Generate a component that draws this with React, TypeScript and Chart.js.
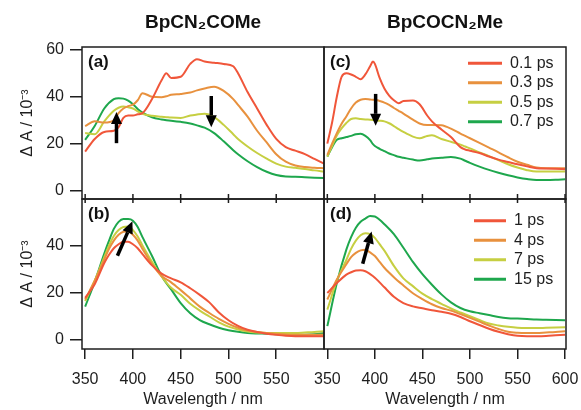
import React, { useEffect, useRef } from 'react';
import { Chart, registerables } from 'chart.js';

Chart.register(...registerables);

const FONT = '"Liberation Sans", Arial, Helvetica, sans-serif';
const INK = '#1e1e1e';
const seriesColors = ['#f0563a', '#e8913e', '#c6cf42', '#1ea74d'];

const namesTop = ['0.1 ps', '0.3 ps', '0.5 ps', '0.7 ps'];
const namesBottom = ['1 ps', '4 ps', '7 ps', '15 ps'];

const xTicksLeft = [350, 400, 450, 500, 550];
const xTicksRight = [350, 400, 450, 500, 550, 600];
const yTicksTop = [0, 20, 40, 60];
const yTicksBottom = [0, 20, 40];

// Panel (a) BpCN2COMe, early times
const waveA = [350, 360, 370, 380, 385, 390, 395, 400, 405, 410, 420, 430, 435, 440, 450, 460, 467, 475, 485, 495, 505, 510, 520, 530, 540, 550, 560, 570, 580, 590, 600];
const aT01 = [16.6, 22, 25, 25.5, 27, 31, 32, 32, 32.5, 33, 39, 47, 50, 48, 48.5, 54, 56, 55, 54.5, 54, 53, 50, 42, 35, 28, 22, 18.5, 17, 15.5, 13.5, 11.5];
const aT03 = [27.5, 29.5, 29, 30, 33, 35, 36, 36.6, 38.5, 41.5, 40, 39.8, 40.2, 40.8, 41.2, 41.8, 42.7, 43.5, 44.3, 42.5, 39, 36.5, 31.5, 25.5, 20.5, 15.5, 12.3, 10.7, 10, 9.7, 9.5];
const aT05 = [24.5, 24, 29.5, 34, 35.3, 35.8, 35.5, 35, 33.8, 32.7, 31.9, 31.5, 31.3, 31.1, 30.9, 32, 32.4, 32.7, 31.3, 28, 24, 22, 18.8, 16, 13.6, 11.5, 10.2, 9.7, 9.2, 8.6, 8.1];
const aT07 = [21.6, 27.5, 35, 39, 39.4, 39.2, 38.3, 36.8, 34.8, 33.2, 31.2, 30.3, 30, 29.8, 29.3, 28.6, 27.8, 26.8, 24.5, 21, 17.2, 15.5, 12.5, 10, 8, 6.6, 6, 5.9, 5.7, 5.5, 5.3];

// Panel (c) BpCOCN2Me, early times
const waveC = [350, 355, 360, 365, 370, 375, 380, 385, 390, 395, 398, 400, 405, 410, 415, 420, 425, 430, 440, 447, 455, 460, 470, 480, 490, 495, 500, 510, 520, 530, 540, 550, 560, 570, 580, 590, 600];
const cT01 = [20, 29, 40, 48.5, 50, 49.5, 48.5, 47.5, 49.5, 53, 55, 54, 48, 43.5, 40.5, 38.5, 37.2, 38.2, 38.4, 36.8, 32, 29.5, 26, 22.8, 18.5, 17.5, 17, 16, 14.5, 13.2, 12.2, 11.2, 10.3, 9.5, 9.4, 9.3, 9.1];
const cT03 = [15.2, 20, 24.5, 28.5, 31.6, 35, 37.5, 38.7, 39, 38.8, 38.7, 38.7, 38.2, 37.5, 36.5, 35.2, 34, 32.8, 30.2, 28.6, 27.9, 28, 27.8, 26.4, 24.3, 23.3, 22.3, 20.3, 18.3, 16.3, 14.2, 12.3, 11, 9.8, 9.5, 9.5, 9.5];
const cT05 = [14.5, 19, 23.5, 26.5, 28.8, 30.5, 30.8, 30.5, 30.3, 30.2, 30.1, 30, 29.8, 29.5, 28.7, 27.5, 26.2, 25, 23, 22.3, 23.3, 23.6, 22, 20.8, 19.6, 18.8, 18, 16.3, 14.7, 13, 11.2, 9.8, 8.7, 8.1, 8.1, 8.1, 8.1];
const cT07 = [14.5, 18.5, 21.6, 22.3, 22.8, 23.3, 24, 24.2, 23.3, 21.5, 19.8, 19, 17.8, 16.8, 15.8, 15.1, 14.4, 14, 13.2, 12.8, 13.3, 13.7, 14, 14.3, 13.6, 12.7, 11.8, 10.2, 8.8, 7.6, 6.5, 5.6, 4.9, 4.5, 4.5, 4.6, 4.8];

// Panel (b) BpCN2COMe, later times
const waveB = [350, 360, 370, 375, 380, 385, 390, 395, 400, 405, 410, 420, 430, 440, 450, 460, 470, 480, 490, 500, 510, 520, 530, 540, 550, 560, 570, 580, 590, 600];
const bT1 = [17.7, 23.5, 32.5, 36, 38.8, 40.5, 41.5, 41.5, 40.5, 38.8, 36.3, 31.5, 28, 26, 24.3, 21.8, 19, 15.8, 11.5, 8.2, 5.8, 4.2, 3.2, 2.5, 2, 1.6, 1.4, 1.4, 1.4, 1.4];
const bT4 = [17, 25, 34, 38.5, 42, 44.5, 45.8, 46, 44.5, 42, 38.5, 32, 27, 24.3, 21, 17.5, 14, 11.3, 8.8, 6.7, 5, 3.8, 3.2, 2.8, 2.5, 2.2, 2.1, 2.1, 2.1, 2.1];
const bT7 = [16.3, 25, 35, 40, 44, 46.5, 47.8, 48, 46.5, 43.8, 40, 33, 26.8, 22, 19, 15.2, 12.3, 9.8, 7.3, 5.5, 4.3, 3.4, 3, 2.8, 2.8, 2.8, 2.8, 3, 3.2, 3.5];
const bT15 = [14, 24.5, 36.5, 42, 47, 50, 51.2, 51.2, 50.5, 47.8, 43.5, 35.5, 27, 21.3, 15.5, 11.2, 8.3, 6.5, 5, 4, 3.3, 2.8, 2.6, 2.5, 2.3, 2.1, 2.1, 2.1, 2.3, 2.8];

// Panel (d) BpCOCN2Me, later times
const waveD = [350, 360, 370, 375, 380, 385, 390, 395, 400, 405, 410, 420, 430, 440, 450, 460, 470, 480, 490, 500, 510, 520, 530, 540, 550, 560, 570, 580, 590, 600];
const dT1 = [19.8, 24, 27.6, 28.6, 29.3, 29.4, 29, 27.8, 26.3, 24.3, 22.2, 18.2, 15.5, 14.1, 13.3, 12.5, 11.8, 11, 9.6, 7.8, 6.2, 4.6, 3.3, 2.3, 1.6, 1.4, 1.4, 1.5, 1.8, 2.1];
const dT4 = [17, 25.5, 32, 35, 36.8, 37.9, 38.2, 37, 35.5, 33, 30.5, 26.5, 23, 19.7, 17.2, 15, 13.4, 12.3, 10.8, 9.2, 7.6, 6, 4.5, 3.3, 2.9, 2.8, 2.8, 3, 3.2, 3.5];
const dT7 = [12.7, 25, 33.8, 38.5, 42, 44.3, 45.2, 44.8, 43.2, 40.5, 37.8, 31.3, 26, 22.7, 19.5, 17.2, 15.2, 13.2, 11.5, 9.9, 8.3, 6.8, 6, 5.4, 5, 4.9, 4.9, 5, 5.1, 5.2];
const dT15 = [5.7, 24, 38.2, 43.5, 47.5, 50, 51.4, 52.5, 52.3, 50.9, 49, 44.8, 39, 33, 27.8, 23.3, 19.2, 15.8, 13.4, 12, 11.2, 10.4, 9.6, 9.1, 8.9, 8.7, 8.5, 8.4, 8.3, 8.2];

// Arrows: [x from, y from, x to (tip), y to (tip)] in data units
const arrowsA = [[382.8, 20.2, 382.8, 33.5], [482, 40.3, 482, 27]];
const arrowsB = [[383.8, 35.6, 399.5, 50.2]];
const arrowsC = [[400.8, 41.2, 400.8, 27.6]];
const arrowsD = [[387.2, 32.2, 396.6, 45.9]];

function drawArrow(ctx: CanvasRenderingContext2D, x1: number, y1: number, x2: number, y2: number) {
  const ang = Math.atan2(y2 - y1, x2 - x1);
  const headLen = 12;
  const headW = 5.5;
  const bx = x2 - headLen * Math.cos(ang);
  const by = y2 - headLen * Math.sin(ang);
  ctx.save();
  ctx.strokeStyle = '#000';
  ctx.fillStyle = '#000';
  ctx.lineWidth = 3.5;
  ctx.beginPath();
  ctx.moveTo(x1, y1);
  ctx.lineTo(bx, by);
  ctx.stroke();
  ctx.beginPath();
  ctx.moveTo(x2, y2);
  ctx.lineTo(bx + headW * Math.sin(ang), by - headW * Math.cos(ang));
  ctx.lineTo(bx - headW * Math.sin(ang), by + headW * Math.cos(ang));
  ctx.closePath();
  ctx.fill();
  ctx.restore();
}

const panelDecor = {
  id: 'panelDecor',
  afterLayout(chart: any, _a: any, o: any) {
    if (o.legendAt && chart.legend) {
      const pad = 3.5;
      const half = 8;
      chart.legend.left = o.legendAt[0] - o.offset[0] - pad;
      chart.legend.top = o.legendAt[1] - o.offset[1] - pad - half;
    }
  },
  afterDatasetsDraw(chart: any, _a: any, o: any) {
    const { ctx, scales } = chart;
    (o.arrows || []).forEach((a: number[]) => {
      drawArrow(
        ctx,
        scales.x.getPixelForValue(a[0]),
        scales.y.getPixelForValue(a[1]),
        scales.x.getPixelForValue(a[2]),
        scales.y.getPixelForValue(a[3])
      );
    });
  },
  afterDraw(chart: any, _a: any, o: any) {
    const { ctx, chartArea: ca, scales } = chart;
    ctx.save();
    ctx.strokeStyle = INK;
    ctx.lineWidth = 1.5;
    ctx.strokeRect(ca.left, ca.top, ca.right - ca.left, ca.bottom - ca.top);
    if (o.cross) {
      ctx.beginPath();
      scales.x.ticks.forEach((t: any) => {
        const px = scales.x.getPixelForValue(t.value);
        ctx.moveTo(px, ca.bottom - 5);
        ctx.lineTo(px, ca.bottom + 4);
      });
      ctx.stroke();
    }
    ctx.fillStyle = '#111';
    ctx.font = `bold 17px ${FONT}`;
    ctx.textBaseline = 'middle';
    ctx.textAlign = 'left';
    ctx.fillText(o.label, ca.left + 6, ca.top + 15);
    ctx.restore();
  },
};

type Spec = {
  id: string; left: number; top: number; width: number; height: number;
  padding: any; title?: string; label: string;
  wave: number[]; series: number[][]; names: string[];
  xMin: number; xMax: number; xTicks: number[]; bottomAxis: boolean; xAxisH: number;
  yMin: number; yMax: number; yTicks: number[]; yAxis: boolean;
  legendAt: number[] | null; legendBox: number; arrows: number[][]; cross: boolean;
};

const panels: Spec[] = [
  {
    id: 'a', left: 0, top: 0, width: 332, height: 216,
    padding: { top: 0, right: 8, bottom: 0, left: 0 }, title: 'BpCN₂COMe', label: '(a)',
    wave: waveA, series: [aT01, aT03, aT05, aT07], names: namesTop,
    xMin: 346.7, xMax: 600, xTicks: xTicksLeft, bottomAxis: false, xAxisH: 17,
    yMin: -3.6, yMax: 61.2, yTicks: yTicksTop, yAxis: true,
    legendAt: null, legendBox: 34, arrows: arrowsA, cross: true,
  },
  {
    id: 'c', left: 300, top: 0, width: 290, height: 216,
    padding: { top: 0, right: 24, bottom: 0, left: 24 }, title: 'BpCOCN₂Me', label: '(c)',
    wave: waveC, series: [cT01, cT03, cT05, cT07], names: namesTop,
    xMin: 346.5, xMax: 601, xTicks: xTicksRight, bottomAxis: false, xAxisH: 17,
    yMin: -3.6, yMax: 61.2, yTicks: yTicksTop, yAxis: false,
    legendAt: [468, 63.3], legendBox: 34, arrows: arrowsC, cross: true,
  },
  {
    id: 'b', left: 0, top: 183, width: 332, height: 227,
    padding: { top: 16, right: 8, bottom: 0, left: 0 }, label: '(b)',
    wave: waveB, series: [bT1, bT4, bT7, bT15], names: namesBottom,
    xMin: 346.7, xMax: 600, xTicks: xTicksLeft, bottomAxis: true, xAxisH: 61,
    yMin: -4, yMax: 59.7, yTicks: yTicksBottom, yAxis: true,
    legendAt: null, legendBox: 32, arrows: arrowsB, cross: false,
  },
  {
    id: 'd', left: 300, top: 183, width: 290, height: 227,
    padding: { top: 16, right: 24, bottom: 0, left: 24 }, label: '(d)',
    wave: waveD, series: [dT1, dT4, dT7, dT15], names: namesBottom,
    xMin: 346.5, xMax: 601, xTicks: xTicksRight, bottomAxis: true, xAxisH: 61,
    yMin: -4, yMax: 59.7, yTicks: yTicksBottom, yAxis: false,
    legendAt: [474, 220.7], legendBox: 32, arrows: arrowsD, cross: false,
  },
];

function makeConfig(s: Spec): any {
  return {
    type: 'line',
    data: {
      datasets: s.series.map((vals, i) => ({
        label: s.names[i],
        data: s.wave.map((x, j) => ({ x, y: vals[j] })),
        borderColor: seriesColors[i],
        backgroundColor: seriesColors[i],
        borderWidth: 2,
        pointRadius: 0,
        pointHoverRadius: 0,
        fill: false,
        cubicInterpolationMode: 'monotone',
      })),
    },
    options: {
      animation: false,
      responsive: false,
      maintainAspectRatio: false,
      devicePixelRatio: 1,
      events: [],
      layout: { padding: s.padding },
      scales: {
        x: {
          type: 'linear',
          min: s.xMin,
          max: s.xMax,
          afterBuildTicks: (sc: any) => { sc.ticks = s.xTicks.map((v) => ({ value: v })); },
          afterFit: (sc: any) => { sc.height = s.xAxisH; },
          border: { display: false },
          grid: { display: s.bottomAxis, drawOnChartArea: false, drawTicks: true, tickLength: 10, color: INK, lineWidth: 1.5 },
          ticks: { display: s.bottomAxis, padding: 11, color: INK, font: { family: FONT, size: 16 }, maxRotation: 0, autoSkip: false },
          title: { display: s.bottomAxis, text: 'Wavelength / nm', color: INK, font: { family: FONT, size: 16 }, padding: { top: 0, bottom: 1 } },
        },
        y: {
          type: 'linear',
          display: s.yAxis,
          min: s.yMin,
          max: s.yMax,
          afterBuildTicks: (sc: any) => { sc.ticks = s.yTicks.map((v) => ({ value: v })); },
          afterFit: (sc: any) => { sc.width = s.yAxis ? 82 : 0; },
          border: { display: false },
          grid: { drawOnChartArea: false, drawTicks: true, tickLength: 12, color: INK, lineWidth: 1.5 },
          ticks: { padding: 6, color: INK, font: { family: FONT, size: 16 } },
          title: { display: true, text: 'Δ A / 10⁻³', color: INK, font: { family: FONT, size: 16 }, padding: { top: 18, bottom: 0 } },
        },
      },
      plugins: {
        tooltip: { enabled: false },
        title: s.title
          ? { display: true, text: s.title, fullSize: false, color: '#111', font: { family: FONT, size: 19, weight: 'bold', lineHeight: 1 }, padding: { top: 13, bottom: 15 } }
          : { display: false },
        legend: s.legendAt
          ? {
              display: true,
              position: 'chartArea',
              align: 'start',
              labels: {
                usePointStyle: true,
                pointStyle: 'line',
                pointStyleWidth: s.legendBox,
                padding: 3.5,
                color: INK,
                font: { family: FONT, size: 16 },
                generateLabels: (ch: any) =>
                  (Chart.defaults.plugins.legend.labels as any).generateLabels(ch).map((l: any) => ({ ...l, lineWidth: 3 })),
              },
            }
          : { display: false },
        panelDecor: {
          label: s.label,
          arrows: s.arrows,
          cross: s.cross,
          legendAt: s.legendAt,
          offset: [s.left, s.top],
        },
      },
    },
    plugins: [panelDecor],
  };
}

function Panel({ spec }: { spec: Spec }) {
  const ref = useRef<HTMLCanvasElement>(null);
  useEffect(() => {
    const chart = new Chart(ref.current as HTMLCanvasElement, makeConfig(spec));
    return () => chart.destroy();
  }, [spec]);
  return (
    <canvas
      ref={ref}
      width={spec.width}
      height={spec.height}
      style={{ position: 'absolute', left: spec.left, top: spec.top, width: spec.width, height: spec.height }}
    />
  );
}

export default function App() {
  return (
    <div style={{ position: 'fixed', left: 0, top: 0, width: 581, height: 410, background: '#fff', overflow: 'hidden' }}>
      {panels.map((p) => (
        <Panel key={p.id} spec={p} />
      ))}
    </div>
  );
}
